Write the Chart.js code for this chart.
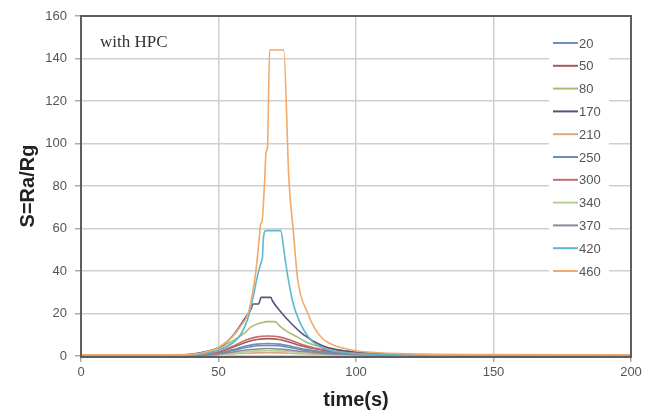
<!DOCTYPE html>
<html>
<head>
<meta charset="utf-8">
<script src="https://cdn.jsdelivr.net/npm/chart.js@4.4.0/dist/chart.umd.min.js"></script>
<style>
  html, body { margin: 0; padding: 0; background: #fff; }
  #wrap { width: 658px; height: 416px; }
</style>
</head>
<body>
<div id="wrap"><canvas id="chart" width="658" height="416"></canvas></div>
<script>
// ---- data ----
const seriesNames = ["20", "50", "80", "170", "210", "250", "300", "340", "370", "420", "460"];
const seriesColors = ["#6b8fc4", "#a45a55", "#a9bd6e", "#5b5080", "#dba884", "#6a8db0",
                      "#c96b6b", "#b3cf95", "#8d8899", "#5ab8d3", "#f3a96b"];

const xTicks = [0, 50, 100, 150, 200];
const yTicks = [0, 20, 40, 60, 80, 100, 120, 140, 160];

// shared time grid for the small curves
const tGrid = [0, 30, 40, 45, 50, 55, 60, 64, 68, 72, 76, 80, 85, 90, 95, 100, 110, 120, 140, 170, 200];
const s20  = [0, 0, 0.2, 0.5, 1.3, 2.9, 4.7, 5.6, 5.9, 5.6, 4.7, 3.5, 2.5, 1.7, 1.2, 0.9, 0.5, 0.3, 0.1, 0.03, 0];
const s50  = [0.3, 0.3, 0.5, 0.9, 1.8, 4, 6.5, 7.8, 8.2, 7.8, 6.5, 4.8, 3.4, 2.3, 1.6, 1.2, 0.8, 0.6, 0.4, 0.3, 0.3];
const s210 = [0.6, 0.6, 0.6, 0.7, 0.8, 1, 1.3, 1.45, 1.5, 1.45, 1.3, 1.1, 0.9, 0.8, 0.7, 0.65, 0.6, 0.6, 0.6, 0.6, 0.6];
const s250 = [0, 0, 0.2, 0.4, 1.1, 2.5, 4, 4.8, 5, 4.8, 4, 3, 2.2, 1.5, 1.1, 0.8, 0.45, 0.25, 0.1, 0.03, 0];
const s300 = [0, 0, 0.3, 0.8, 2, 4.5, 7.5, 9, 9.4, 9, 7.5, 5.5, 3.8, 2.6, 1.8, 1.3, 0.7, 0.4, 0.15, 0.05, 0];
const s340 = [0, 0, 0.1, 0.25, 0.6, 1.3, 2, 2.4, 2.5, 2.4, 2.1, 1.6, 1.2, 0.85, 0.6, 0.45, 0.25, 0.15, 0.05, 0.02, 0];
const s370 = [0, 0, 0.15, 0.35, 0.9, 1.8, 2.8, 3.3, 3.5, 3.3, 2.8, 2.2, 1.6, 1.1, 0.8, 0.6, 0.35, 0.2, 0.07, 0.02, 0];

// the bigger curves have their own time points (steps near the peak)
const t80  = [0, 30, 40, 45, 50, 55, 57, 60, 62, 64, 66, 67.5, 70.5, 72.5, 75, 78.5, 82, 87, 92, 100, 110, 125, 150, 200];
const s80  = [0, 0, 0.8, 1.8, 3.8, 7, 8.5, 11.5, 13.8, 15, 15.8, 16.2, 16.2, 13.8, 11.5, 9.1, 6.5, 4.4, 3, 1.8, 0.9, 0.4, 0.1, 0];

const t170 = [0, 30, 40, 45, 50.7, 55.5, 60, 62, 62.5, 64.6, 65.5, 69, 69.6, 72.6, 76.3, 81, 87.2, 93, 100, 110, 125, 150, 200];
const s170 = [0, 0, 0.8, 2, 4.4, 10, 18.5, 22.6, 24.5, 24.5, 27.6, 27.6, 26, 20.8, 15.5, 9.9, 5.2, 3, 1.8, 0.9, 0.4, 0.1, 0];

const t420 = [0, 30, 40, 45, 50, 55, 58, 60.5, 62.3, 64.4, 65.6, 66, 66.3, 67.2, 72.6, 74.1, 75, 76.9, 79.2, 83.6, 89.7, 95, 100, 110, 125, 150, 200];
const s420 = [0, 0, 0.5, 1.2, 2.8, 6, 10, 17, 26, 39, 44.5, 46.7, 55, 59, 59, 46.7, 39, 26, 17, 7.5, 3, 1.8, 1.2, 0.6, 0.2, 0.1, 0];

const t460 = [0, 30, 40, 45, 50, 55, 58, 61, 63.5, 65, 65.3, 65.8, 66.8, 67.3, 67.8, 68.6, 73.7, 75.6, 77.2, 78.8, 82.5, 85, 88, 92, 96, 100, 110, 125, 150, 200];
const s460 = [0.6, 0.6, 0.8, 1.8, 4, 9, 14, 21, 39, 58, 62, 63, 83, 96, 98, 144, 144, 83, 59, 36, 20, 13, 8, 5, 3.5, 2.5, 1.4, 0.9, 0.7, 0.6];

const seriesTimes = [tGrid, tGrid, t80, t170, tGrid, tGrid, tGrid, tGrid, tGrid, t420, t460];
const seriesValues = [s20, s50, s80, s170, s210, s250, s300, s340, s370, s420, s460];

// ---- helpers ----
function toPoints(ts, vs) {
  return ts.map((t, i) => ({ x: t, y: vs[i] }));
}

const datasets = seriesNames.map((name, i) => ({
  label: name,
  data: toPoints(seriesTimes[i], seriesValues[i]),
  borderColor: seriesColors[i],
  borderWidth: 1.6,
  pointRadius: 0,
  fill: false,
  cubicInterpolationMode: "monotone",
  order: seriesNames.length - i
}));

// frame, note text and legend box drawn on the canvas
const extras = {
  id: "extras",
  afterDatasetsDraw(chart) {
    const ctx = chart.ctx;
    const a = chart.chartArea;
    ctx.save();
    ctx.strokeStyle = "#5e5e5e";
    ctx.lineWidth = 2;
    ctx.strokeRect(a.left, a.top, a.right - a.left, a.bottom - a.top + 1);

    ctx.fillStyle = "#333";
    ctx.font = '17px "Liberation Serif", "Times New Roman", serif';
    ctx.textBaseline = "alphabetic";
    ctx.fillText("with HPC", 100, 47);

    // legend
    const lx = 549, ly = 30, lw = 60, rowH = 22.8;
    ctx.fillStyle = "#fff";
    ctx.fillRect(lx, ly, lw, rowH * chart.data.datasets.length + 4);
    ctx.font = '13px "Liberation Sans", Arial, sans-serif';
    ctx.textBaseline = "middle";
    chart.data.datasets.forEach((ds, i) => {
      const y = 43 + i * rowH;
      ctx.strokeStyle = ds.borderColor;
      ctx.lineWidth = 2;
      ctx.beginPath();
      ctx.moveTo(553, y);
      ctx.lineTo(578, y);
      ctx.stroke();
      ctx.fillStyle = "#555";
      ctx.fillText(ds.label, 579, y + 1);
    });
    ctx.restore();
  }
};

new Chart(document.getElementById("chart"), {
  type: "line",
  data: { datasets },
  options: {
    responsive: false,
    animation: false,
    layout: { padding: { left: 0, top: 16, right: 27, bottom: 0 } },
    plugins: {
      legend: { display: false },
      tooltip: { enabled: false }
    },
    scales: {
      x: {
        type: "linear",
        min: 0,
        max: 200,
        afterBuildTicks: s => { s.ticks = xTicks.map(v => ({ value: v })); },
        afterFit: s => { s.height = 60; },
        grid: { color: "#cfcfcf", lineWidth: 1.5, tickLength: 6, tickColor: "#aaa" },
        border: { display: false },
        ticks: { color: "#555", font: { size: 13, family: '"Liberation Sans", Arial' }, padding: 3, maxRotation: 0 },
        title: {
          display: true,
          text: "time(s)",
          color: "#222",
          font: { size: 20, weight: "bold", family: '"Liberation Sans", Arial' },
          padding: { top: 0, bottom: 4 }
        }
      },
      y: {
        min: 0,
        max: 160,
        afterBuildTicks: s => { s.ticks = yTicks.map(v => ({ value: v })); },
        afterFit: s => { s.width = 81; },
        grid: { color: "#cfcfcf", lineWidth: 1.5, tickLength: 6, tickColor: "#aaa" },
        border: { display: false },
        ticks: { color: "#555", font: { size: 13, family: '"Liberation Sans", Arial' }, padding: 8 },
        title: {
          display: true,
          text: "S=Ra/Rg",
          color: "#222",
          font: { size: 20, weight: "bold", family: '"Liberation Sans", Arial' },
          padding: { top: 16, bottom: 0 }
        }
      }
    }
  },
  plugins: [extras]
});
</script>
</body>
</html>
